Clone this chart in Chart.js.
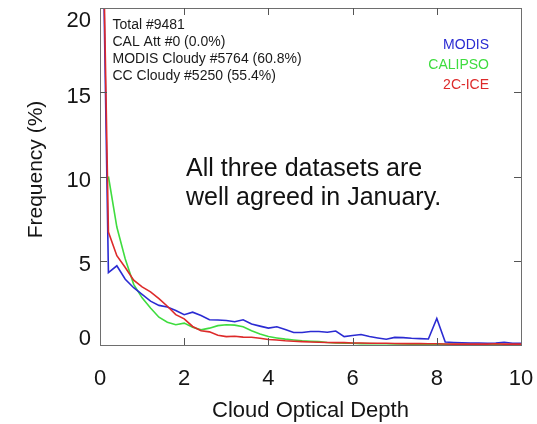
<!DOCTYPE html>
<html>
<head>
<meta charset="utf-8">
<script src="https://cdn.jsdelivr.net/npm/chart.js@4.4.1/dist/chart.umd.min.js"></script>
<style>
  html, body { margin: 0; padding: 0; background: #ffffff; }
  #wrap { width: 537px; height: 424px; }
</style>
</head>
<body>
<div id="wrap"><canvas id="c" width="537" height="424"></canvas></div>
<script>
// Cloud optical depth bins (x) and frequency of occurrence in percent (y)
const opticalDepth = [0, 0.2, 0.4, 0.6, 0.8, 1.0, 1.2, 1.4, 1.6, 1.8,
  2.0, 2.2, 2.4, 2.6, 2.8, 3.0, 3.2, 3.4, 3.6, 3.8,
  4.0, 4.2, 4.4, 4.6, 4.8, 5.0, 5.2, 5.4, 5.6, 5.8,
  6.0, 6.2, 6.4, 6.6, 6.8, 7.0, 7.2, 7.4, 7.6, 7.8,
  8.0, 8.2, 8.4, 8.6, 8.8, 9.0, 9.2, 9.4, 9.6, 9.8, 10.0];

const modisFreq = [35, 4.3, 4.7, 3.9, 3.4, 3.0, 2.6, 2.35, 2.25, 2.05,
  1.8, 1.95, 1.75, 1.5, 1.48, 1.45, 1.38, 1.5, 1.25, 1.12,
  1.0, 1.08, 0.92, 0.74, 0.74, 0.8, 0.8, 0.76, 0.83, 0.5,
  0.56, 0.62, 0.5, 0.42, 0.34, 0.45, 0.44, 0.4, 0.38, 0.36,
  1.58, 0.18, 0.15, 0.13, 0.12, 0.12, 0.1, 0.12, 0.16, 0.1, 0.1];

// no CALIPSO value in the first bin
const calipsoFreq = [null, 10.0, 7.0, 5.1, 3.6, 2.8, 2.2, 1.65, 1.35, 1.2,
  1.3, 1.05, 0.9, 1.0, 1.15, 1.2, 1.18, 1.08, 0.85, 0.65,
  0.5, 0.42, 0.35, 0.3, 0.25, 0.22, 0.2, 0.15, 0.12, 0.1,
  0.1, 0.08, 0.08, 0.07, 0.07, 0.06, 0.06, 0.05, 0.05, 0.05,
  0.05, 0.04, 0.04, 0.04, 0.04, 0.03, 0.03, 0.03, 0.03, 0.03, 0.03];

const iceFreq = [35, 6.7, 5.3, 4.6, 3.85, 3.45, 3.15, 2.75, 2.3, 1.8,
  1.55, 1.1, 0.85, 0.78, 0.58, 0.5, 0.52, 0.47, 0.46, 0.4,
  0.33, 0.3, 0.25, 0.22, 0.2, 0.18, 0.16, 0.15, 0.14, 0.14,
  0.12, 0.12, 0.1, 0.1, 0.1, 0.09, 0.08, 0.08, 0.08, 0.07,
  0.07, 0.06, 0.05, 0.06, 0.05, 0.06, 0.05, 0.07, 0.05, 0.06, 0.05];

const xTickValues = [0, 2, 4, 6, 8, 10];
const yTickValues = [0, 5, 10, 15, 20];

const seriesNames = ['MODIS', 'CALIPSO', '2C-ICE'];
const seriesColors = ['#2b2bd2', '#3fdc3f', '#dd2a2a'];

const statsLines = ['Total #9481', 'CAL Att #0 (0.0%)', 'MODIS Cloudy #5764 (60.8%)', 'CC Cloudy #5250 (55.4%)'];
const noteLines = ['All three datasets are', 'well agreed in January.'];

const FONT = '"Liberation Sans", Arial, Helvetica, sans-serif';

function toPoints(values) {
  return opticalDepth.map((x, i) => ({ x: x, y: values[i] }));
}

// Box frame, inward tick marks, y tick labels, y title and the text blocks
const framePlugin = {
  id: 'frame',
  afterDraw(chart) {
    const { ctx, chartArea: a, scales } = chart;
    const xs = scales.x, ys = scales.y;
    ctx.save();
    ctx.strokeStyle = '#6e6e6e';
    ctx.lineWidth = 1;
    ctx.strokeRect(a.left + 0.5, a.top + 0.5, a.right - a.left, a.bottom - a.top);
    const tl = 7;
    ctx.strokeStyle = '#555';
    ctx.beginPath();
    xTickValues.forEach(v => {
      const px = Math.round(xs.getPixelForValue(v)) + 0.5;
      if (v === xs.min || v === xs.max) return;
      ctx.moveTo(px, a.bottom); ctx.lineTo(px, a.bottom - tl);
      ctx.moveTo(px, a.top); ctx.lineTo(px, a.top + tl);
    });
    yTickValues.forEach(v => {
      const py = Math.round(ys.getPixelForValue(v)) + 0.5;
      if (v === ys.min || v === ys.max) return;
      ctx.moveTo(a.left, py); ctx.lineTo(a.left + tl, py);
      ctx.moveTo(a.right, py); ctx.lineTo(a.right - tl, py);
    });
    ctx.stroke();

    // y tick labels, kept inside the frame height
    ctx.fillStyle = '#151515';
    ctx.font = '22px ' + FONT;
    ctx.textAlign = 'right';
    ctx.textBaseline = 'middle';
    yTickValues.forEach(v => {
      let py = ys.getPixelForValue(v) + 4.5;
      py = Math.max(a.top + 13, Math.min(a.bottom - 6, py));
      ctx.fillText(String(v), a.left - 9, py);
    });

    // y axis title
    ctx.save();
    ctx.translate(36, (a.top + a.bottom) / 2 - 7);
    ctx.rotate(-Math.PI / 2);
    ctx.textAlign = 'center';
    ctx.font = '21px ' + FONT;
    ctx.fillText('Frequency (%)', 0, 0);
    ctx.restore();

    // sample statistics
    ctx.textAlign = 'left';
    ctx.textBaseline = 'alphabetic';
    ctx.font = '14px ' + FONT;
    ctx.fillStyle = '#1a1a1a';
    statsLines.forEach((t, i) => ctx.fillText(t, a.left + 12.5, a.top + 20.5 + i * 17.2));

    // dataset key
    ctx.textAlign = 'right';
    seriesNames.forEach((t, i) => {
      ctx.fillStyle = seriesColors[i];
      ctx.fillText(t, a.right - 32, a.top + 40.5 + i * 20);
    });

    // note
    ctx.textAlign = 'left';
    ctx.font = '25px ' + FONT;
    ctx.fillStyle = '#111';
    noteLines.forEach((t, i) => ctx.fillText(t, a.left + 86, a.top + 167.5 + i * 29.6));
    ctx.restore();
  }
};

new Chart(document.getElementById('c'), {
  type: 'line',
  data: {
    datasets: [
      { label: seriesNames[2], data: toPoints(iceFreq), borderColor: seriesColors[2], order: 0 },
      { label: seriesNames[0], data: toPoints(modisFreq), borderColor: seriesColors[0], order: 1 },
      { label: seriesNames[1], data: toPoints(calipsoFreq), borderColor: seriesColors[1], order: 2 }
    ]
  },
  options: {
    responsive: false,
    animation: false,
    devicePixelRatio: 1,
    parsing: false,
    layout: { autoPadding: false, padding: { top: 8, right: 16, left: 0, bottom: 0 } },
    elements: {
      line: { borderWidth: 1.6, tension: 0, fill: false },
      point: { radius: 0 }
    },
    plugins: { legend: { display: false }, tooltip: { enabled: false } },
    scales: {
      x: {
        type: 'linear',
        min: 0, max: 10,
        afterBuildTicks(s) { s.ticks = xTickValues.map(v => ({ value: v })); },
        afterFit(s) { s.height = 79; s.paddingLeft = 0; s.paddingRight = 0; },
        grid: { display: false, drawTicks: false },
        border: { display: false },
        ticks: { color: '#151515', font: { family: FONT, size: 22 }, padding: 21, maxRotation: 0 },
        title: { display: true, text: 'Cloud Optical Depth', color: '#151515',
                 font: { family: FONT, size: 22 }, padding: { top: 0, bottom: 0 } }
      },
      y: {
        type: 'linear',
        min: 0, max: 20,
        afterBuildTicks(s) { s.ticks = yTickValues.map(v => ({ value: v })); },
        afterFit(s) { s.width = 100; s.paddingTop = 0; s.paddingBottom = 0; },
        grid: { display: false, drawTicks: false },
        border: { display: false },
        ticks: { display: false },
        title: { display: false }
      }
    }
  },
  plugins: [framePlugin]
});
</script>
</body>
</html>
